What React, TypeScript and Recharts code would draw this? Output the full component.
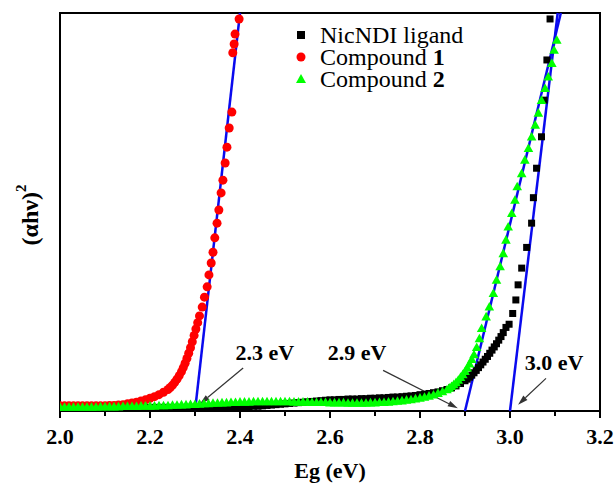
import React from 'react';
import { ScatterChart, Scatter, XAxis, YAxis, ReferenceLine, ReferenceArea, ReferenceDot } from 'recharts';

const FONT = '"Liberation Serif", "Times New Roman", serif';

const COLORS = {
  ligand: '#000000',
  c1: '#ff0000',
  c2: '#00ff00',
  fit: '#0a0aee',
  arrow: '#333333',
};

// x axis ticks (every 0.1 eV, labels on the even ones)
const X_TICKS = [2.0, 2.1, 2.2, 2.3, 2.4, 2.5, 2.6, 2.7, 2.8, 2.9, 3.0, 3.1, 3.2];
const X_LABELS = ['2.0', '', '2.2', '', '2.4', '', '2.6', '', '2.8', '', '3.0', '', '3.2'];

// [Eg, (ahv)^2], arbitrary units 0..100
const LIGAND: [number, number][] = [
  [2.00, 0.9], [2.01, 0.9], [2.02, 0.9], [2.03, 0.9], [2.04, 0.9], [2.05, 0.9], [2.06, 0.9], [2.07, 0.9], [2.08, 0.9], [2.09, 0.9],
  [2.10, 0.9], [2.11, 0.9], [2.12, 0.9], [2.13, 0.9], [2.14, 0.9], [2.15, 0.9], [2.16, 0.9], [2.17, 0.9], [2.18, 0.9], [2.19, 0.9],
  [2.20, 0.9], [2.21, 0.9], [2.22, 0.9], [2.23, 0.9], [2.24, 0.9], [2.25, 0.9], [2.26, 0.9], [2.27, 0.9], [2.28, 0.9], [2.29, 0.9],
  [2.30, 0.9], [2.31, 0.9], [2.32, 1.0], [2.33, 1.0], [2.34, 1.0], [2.35, 1.0], [2.36, 1.0], [2.37, 1.0], [2.38, 1.0], [2.39, 1.0],
  [2.40, 1.0], [2.41, 1.1], [2.42, 1.1], [2.43, 1.2], [2.44, 1.2], [2.45, 1.3], [2.46, 1.4], [2.47, 1.5], [2.48, 1.6], [2.49, 1.7],
  [2.50, 1.8], [2.51, 1.9], [2.52, 2.0], [2.53, 2.1], [2.54, 2.2], [2.55, 2.3], [2.56, 2.4], [2.57, 2.5], [2.58, 2.6], [2.59, 2.7],
  [2.60, 2.8], [2.61, 2.8], [2.62, 2.9], [2.63, 2.9], [2.64, 3.0], [2.65, 3.0], [2.66, 3.0], [2.67, 3.1], [2.68, 3.1], [2.69, 3.2],
  [2.70, 3.2], [2.71, 3.3], [2.72, 3.3], [2.73, 3.4], [2.74, 3.5], [2.75, 3.5], [2.76, 3.6], [2.77, 3.7], [2.78, 3.8], [2.79, 3.9],
  [2.80, 4.1], [2.81, 4.2], [2.82, 4.4], [2.83, 4.6], [2.84, 4.8], [2.85, 5.1], [2.86, 5.4], [2.87, 5.8], [2.88, 6.3], [2.89, 6.9],
  [2.90, 7.6], [2.905, 8.0], [2.91, 8.5], [2.915, 9.0], [2.92, 9.6], [2.925, 10.2], [2.93, 10.9], [2.935, 11.6], [2.94, 12.3], [2.945, 13.0],
  [2.95, 13.7], [2.955, 14.5], [2.96, 15.3], [2.965, 16.1], [2.97, 16.9], [2.975, 17.8], [2.98, 18.7], [2.985, 19.7], [2.991, 21.0],
  [2.998, 21.8], [3.006, 24.5], [3.013, 27.9], [3.018, 31.7], [3.026, 35.9], [3.037, 41.1], [3.048, 47.2], [3.052, 53.6],
  [3.059, 61.0], [3.070, 68.9], [3.076, 78.1], [3.082, 88.2], [3.089, 98.5],
];

const COMPOUND_1: [number, number][] = [
  [2.00, 1.3], [2.01, 1.3], [2.02, 1.3], [2.03, 1.3], [2.04, 1.3], [2.05, 1.3], [2.06, 1.3], [2.07, 1.3], [2.08, 1.3], [2.09, 1.3],
  [2.10, 1.3], [2.11, 1.4], [2.12, 1.4], [2.13, 1.5], [2.14, 1.6], [2.15, 1.8], [2.16, 2.0], [2.17, 2.2], [2.18, 2.5], [2.19, 2.8],
  [2.20, 3.2], [2.21, 3.6], [2.22, 4.1], [2.23, 4.7], [2.24, 5.4], [2.245, 5.9], [2.25, 6.5], [2.255, 7.2], [2.26, 8.0], [2.265, 8.9],
  [2.27, 9.9], [2.274, 10.9], [2.278, 12.0], [2.282, 13.2], [2.286, 14.5], [2.29, 15.9], [2.294, 17.4], [2.298, 19.0], [2.302, 20.6],
  [2.306, 22.2], [2.310, 23.9], [2.316, 26.1], [2.321, 28.6], [2.327, 31.2], [2.331, 34.2], [2.336, 37.2], [2.340, 39.9], [2.344, 43.5],
  [2.349, 47.2], [2.353, 50.5], [2.358, 54.8], [2.362, 58.0], [2.367, 62.3], [2.371, 66.3], [2.376, 71.1], [2.382, 75.1],
  [2.384, 90.0], [2.387, 92.2], [2.389, 94.7], [2.398, 98.5],
];

const COMPOUND_2: [number, number][] = [
  [2.00, 1.0], [2.01, 1.0], [2.02, 1.0], [2.03, 1.0], [2.04, 1.0], [2.05, 1.0], [2.06, 1.0], [2.07, 1.0], [2.08, 1.0], [2.09, 1.1],
  [2.10, 1.1], [2.11, 1.1], [2.12, 1.1], [2.13, 1.1], [2.14, 1.2], [2.15, 1.2], [2.16, 1.2], [2.17, 1.2], [2.18, 1.3], [2.19, 1.3],
  [2.20, 1.3], [2.21, 1.3], [2.22, 1.4], [2.23, 1.4], [2.24, 1.4], [2.25, 1.5], [2.26, 1.5], [2.27, 1.6], [2.28, 1.6], [2.29, 1.7],
  [2.30, 1.7], [2.31, 1.8], [2.32, 1.9], [2.33, 1.9], [2.34, 2.0], [2.35, 2.0], [2.36, 2.1], [2.37, 2.1], [2.38, 2.2], [2.39, 2.2],
  [2.40, 2.3], [2.41, 2.3], [2.42, 2.3], [2.43, 2.4], [2.44, 2.4], [2.45, 2.4], [2.46, 2.4], [2.47, 2.4], [2.48, 2.4], [2.49, 2.4],
  [2.50, 2.4], [2.51, 2.4], [2.52, 2.3], [2.53, 2.3], [2.54, 2.3], [2.55, 2.3], [2.56, 2.2], [2.57, 2.2], [2.58, 2.2], [2.59, 2.2],
  [2.60, 2.1], [2.61, 2.1], [2.62, 2.1], [2.63, 2.1], [2.64, 2.0], [2.65, 2.0], [2.66, 2.0], [2.67, 2.0], [2.68, 2.0], [2.69, 2.1],
  [2.70, 2.1], [2.71, 2.2], [2.72, 2.2], [2.73, 2.3], [2.74, 2.4], [2.75, 2.5], [2.76, 2.6], [2.77, 2.8], [2.78, 2.9], [2.79, 3.1],
  [2.80, 3.3], [2.81, 3.5], [2.82, 3.8], [2.83, 4.1], [2.84, 4.5], [2.85, 4.9], [2.86, 5.4], [2.865, 5.8], [2.87, 6.2], [2.875, 6.7],
  [2.88, 7.2], [2.885, 7.8], [2.89, 8.5], [2.895, 9.2], [2.90, 10.0], [2.905, 10.9], [2.91, 11.9], [2.915, 13.0], [2.92, 14.2],
  [2.926, 16.0], [2.932, 18.2], [2.937, 20.8], [2.947, 23.7], [2.954, 26.2], [2.963, 29.6], [2.970, 32.9], [2.978, 36.3],
  [2.985, 39.6], [2.991, 43.0], [2.996, 46.3], [3.004, 49.7], [3.011, 53.0], [3.016, 56.4], [3.026, 59.7], [3.033, 63.1],
  [3.041, 66.0], [3.048, 68.9], [3.056, 71.9], [3.063, 74.9], [3.070, 78.1], [3.078, 81.1], [3.085, 84.0], [3.093, 87.4],
  [3.098, 90.7], [3.104, 93.2],
];

// linear fits (Tauc extrapolation): start on the axis, end at the top
const FIT_START = [2.30, 2.90, 3.00];
const FIT_END = [2.40, 3.113, 3.106];

// annotations
const ANNOT_TEXT = ['2.3 eV', '2.9 eV', '3.0 eV'];
const ANNOT_AT: [number, number][] = [[2.455, 14.8], [2.66, 14.8], [3.098, 12.3]];
const ARROW_FROM: [number, number][] = [[2.407, 10.8], [2.718, 10.2], [3.080, 8.2]];
const ARROW_TO: [number, number][] = [[2.311, 1.8], [2.884, 0.7], [3.018, 1.6]];

const toPoints = (rows: [number, number][]) => rows.map(([eg, abs]) => ({ eg, abs }));

const textStyle = (size: number, bold = true): React.CSSProperties => ({
  fontFamily: FONT,
  fontSize: size,
  fontWeight: bold ? 'bold' : 'normal',
  fill: '#000',
});

const SquareDot = ({ cx, cy }: any) => <rect x={cx - 3.5} y={cy - 3.5} width={7} height={7} fill={COLORS.ligand} />;
const CircleDot = ({ cx, cy }: any) => <circle cx={cx} cy={cy} r={4.5} fill={COLORS.c1} />;
const TriangleDot = ({ cx, cy }: any) => (
  <polygon points={`${cx},${cy - 4.8} ${cx + 4.8},${cy + 3.8} ${cx - 4.8},${cy + 3.8}`} fill={COLORS.c2} />
);

const EgTick = ({ x, y, payload }: any) => {
  const i = X_TICKS.findIndex((t) => Math.abs(t - payload.value) < 1e-6);
  const label = X_LABELS[i] || '';
  return (
    <g>
      <line x1={x} x2={x} y1={y} y2={y + (label ? 7 : 5)} stroke="#000" strokeWidth={2} />
      {label && (
        <text x={x} y={y + 33} textAnchor="middle" style={textStyle(22)}>
          {label}
        </text>
      )}
    </g>
  );
};

const ArrowShape = ({ x1, y1, x2, y2 }: any) => {
  const a = Math.atan2(y2 - y1, x2 - x1);
  const len = 10;
  const w = 3;
  const bx = x2 - len * Math.cos(a);
  const by = y2 - len * Math.sin(a);
  const px = -Math.sin(a) * w;
  const py = Math.cos(a) * w;
  return (
    <g>
      <line x1={x1} y1={y1} x2={bx} y2={by} stroke={COLORS.arrow} strokeWidth={1.2} />
      <polygon points={`${x2},${y2} ${bx + px},${by + py} ${bx - px},${by - py}`} fill={COLORS.arrow} />
    </g>
  );
};

const LegendRow = ({ symbol, children }: { symbol: React.ReactNode; children: React.ReactNode }) => (
  <div style={{ display: 'flex', alignItems: 'center', height: 22 }}>
    <svg width={18} height={18} style={{ marginRight: 10 }}>
      {symbol}
    </svg>
    <span style={{ whiteSpace: 'nowrap' }}>{children}</span>
  </div>
);

export default function App() {
  return (
    <div style={{ position: 'absolute', left: 0, top: 0, width: 614, height: 493, background: '#fff' }}>
      <ScatterChart width={614} height={493} margin={{ top: 13, right: 14, bottom: 0, left: 60 }}>
        <XAxis
          dataKey="eg"
          type="number"
          domain={[2.0, 3.2]}
          ticks={X_TICKS}
          interval={0}
          allowDataOverflow
          axisLine={false}
          tickLine={false}
          tickSize={0}
          tickMargin={0}
          height={82}
          tick={<EgTick />}
          label={{
            content: ({ viewBox }: any) => (
              <text x={viewBox.x + viewBox.width / 2} y={viewBox.y + 67} textAnchor="middle" style={textStyle(22)}>
                Eg (eV)
              </text>
            ),
          }}
        />
        <YAxis
          dataKey="abs"
          type="number"
          domain={[0, 100]}
          allowDataOverflow
          width={0}
          tick={false}
          axisLine={false}
          tickLine={false}
        />
        <ReferenceArea x1={2.0} x2={3.2} y1={0} y2={100} fill="none" stroke="#000" strokeWidth={2} />
        <Scatter name="NicNDI ligand" data={toPoints(LIGAND)} shape={<SquareDot />} isAnimationActive={false} />
        <Scatter name="Compound 1" data={toPoints(COMPOUND_1)} shape={<CircleDot />} isAnimationActive={false} />
        <Scatter name="Compound 2" data={toPoints(COMPOUND_2)} shape={<TriangleDot />} isAnimationActive={false} />
        {FIT_START.map((s, i) => (
          <ReferenceLine
            key={`fit-${i}`}
            segment={[{ x: s, y: 0 }, { x: FIT_END[i], y: 100 }]}
            stroke={COLORS.fit}
            strokeWidth={2.5}
          />
        ))}
        {ARROW_FROM.map((f, i) => (
          <ReferenceLine
            key={`arrow-${i}`}
            segment={[{ x: f[0], y: f[1] }, { x: ARROW_TO[i][0], y: ARROW_TO[i][1] }]}
            shape={<ArrowShape />}
          />
        ))}
        {ANNOT_TEXT.map((t, i) => (
          <ReferenceDot
            key={`annot-${i}`}
            x={ANNOT_AT[i][0]}
            y={ANNOT_AT[i][1]}
            r={0}
            shape={({ cx, cy }: any) => (
              <text x={cx} y={cy} textAnchor="middle" dominantBaseline="central" style={textStyle(22)}>
                {t}
              </text>
            )}
          />
        ))}
      </ScatterChart>
      <svg width={60} height={493} style={{ position: 'absolute', left: 0, top: 0 }}>
        <text
          x={30}
          y={215}
          transform="rotate(-90, 30, 215)"
          textAnchor="middle"
          dominantBaseline="central"
          style={textStyle(24)}
        >
          (αhν)
          <tspan dy={-9} fontSize={15}>
            2
          </tspan>
        </text>
      </svg>
      <div
        style={{
          position: 'absolute',
          left: 292,
          top: 24,
          fontFamily: FONT,
          fontSize: 24,
          color: '#000',
          lineHeight: '22px',
        }}
      >
        <LegendRow symbol={<rect x={5} y={5} width={8} height={8} fill={COLORS.ligand} />}>NicNDI ligand</LegendRow>
        <LegendRow symbol={<circle cx={9} cy={9} r={4.5} fill={COLORS.c1} />}>
          Compound <b>1</b>
        </LegendRow>
        <LegendRow symbol={<polygon points="9,4 14,13 4,13" fill={COLORS.c2} />}>
          Compound <b>2</b>
        </LegendRow>
      </div>
    </div>
  );
}
